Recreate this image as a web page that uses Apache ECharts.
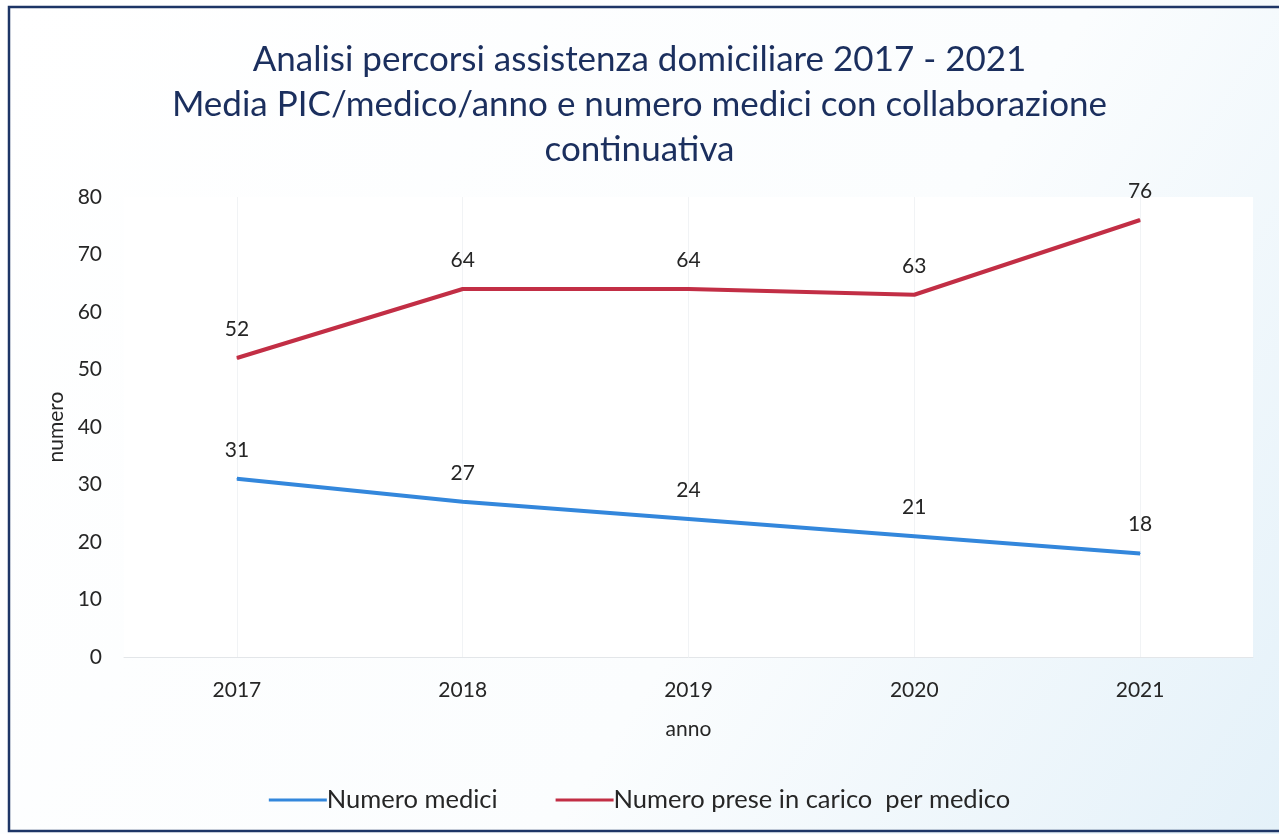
<!DOCTYPE html>
<html>
<head>
<meta charset="utf-8">
<script src="https://cdn.jsdelivr.net/npm/echarts@6/dist/echarts.min.js"></script>
<style>
  html, body { margin: 0; padding: 0; background: #ffffff; }
  #chart { width: 1279px; height: 834px; }
</style>
</head>
<body>
<div id="chart"></div>
<script>
// Anni di riferimento e valori delle due serie
const anni = ['2017', '2018', '2019', '2020', '2021'];
const numeroMedici = [31, 27, 24, 21, 18];
const preseInCaricoPerMedico = [52, 64, 64, 63, 76];
const yTicks = { min: 0, max: 80, interval: 10 };

const titolo = 'Analisi percorsi assistenza domiciliare 2017 - 2021\nMedia PIC/medico/anno e numero medici con collaborazione\ncontinuativa';

const FONT = 'Lato, "Open Sans", sans-serif';
const TXT = '#262626';

const chart = echarts.init(document.getElementById('chart'));

// etichetta del valore sopra ogni punto
const valueLabel = {
  show: true, position: 'top', distance: 18,
  fontFamily: FONT, fontSize: 21, color: TXT
};

chart.setOption({
  backgroundColor: {
    type: 'linear', x: 0, y: 0, x2: 1, y2: 1,
    colorStops: [
      { offset: 0, color: '#ffffff' },
      { offset: 0.6, color: '#fbfdfe' },
      { offset: 1, color: '#e4f1f9' }
    ]
  },
  textStyle: { fontFamily: FONT },
  title: {
    text: titolo,
    left: 'center',
    top: 32,
    textStyle: {
      fontFamily: FONT,
      fontWeight: 'normal',
      fontSize: 35,
      lineHeight: 45,
      color: '#1b2f5e'
    }
  },
  legend: {
    bottom: 16,
    left: 'center',
    itemWidth: 58,
    itemHeight: 3,
    itemGap: 58,
    icon: 'rect',
    textStyle: { fontFamily: FONT, fontSize: 25.5, color: TXT, padding: [0, 0, 0, -5] },
    data: ['Numero medici', 'Numero prese in carico  per medico']
  },
  grid: {
    left: 124,
    right: 26,
    top: 197,
    bottom: 177,
    show: true,
    backgroundColor: '#ffffff',
    borderWidth: 0
  },
  xAxis: {
    type: 'category',
    data: anni,
    name: 'anno',
    nameLocation: 'middle',
    nameGap: 62,
    nameTextStyle: { fontFamily: FONT, fontSize: 21, color: TXT },
    axisLine: { lineStyle: { color: '#e3e6e9', width: 1 } },
    axisTick: { show: false, alignWithLabel: true },
    axisLabel: { fontFamily: FONT, fontSize: 21, color: TXT, margin: 23 },
    splitLine: { show: true, alignWithLabel: true, lineStyle: { color: '#f1f3f5', width: 1 } }
  },
  yAxis: {
    type: 'value',
    min: yTicks.min,
    max: yTicks.max,
    interval: yTicks.interval,
    name: 'numero',
    nameLocation: 'middle',
    nameGap: 56,
    nameRotate: 90,
    nameTextStyle: { fontFamily: FONT, fontSize: 21, color: TXT },
    axisLine: { show: false },
    axisTick: { show: false },
    axisLabel: { fontFamily: FONT, fontSize: 21, color: TXT, margin: 22 },
    splitLine: { show: false }
  },
  series: [
    {
      name: 'Numero medici',
      type: 'line',
      data: numeroMedici,
      symbol: 'circle',
      symbolSize: 1,
      showSymbol: true,
      color: '#3387dc',
      lineStyle: { width: 4, color: '#3387dc' },
      label: valueLabel
    },
    {
      name: 'Numero prese in carico  per medico',
      type: 'line',
      data: preseInCaricoPerMedico,
      symbol: 'circle',
      symbolSize: 1,
      showSymbol: true,
      color: '#c22e45',
      lineStyle: { width: 4, color: '#c22e45' },
      label: valueLabel
    }
  ],
  graphic: [
    {
      type: 'rect',
      shape: { x: 9, y: 7, width: 1300, height: 824 },
      style: { fill: null, stroke: '#1d3566', lineWidth: 2.5 },
      silent: true
    }
  ]
});
</script>
</body>
</html>
